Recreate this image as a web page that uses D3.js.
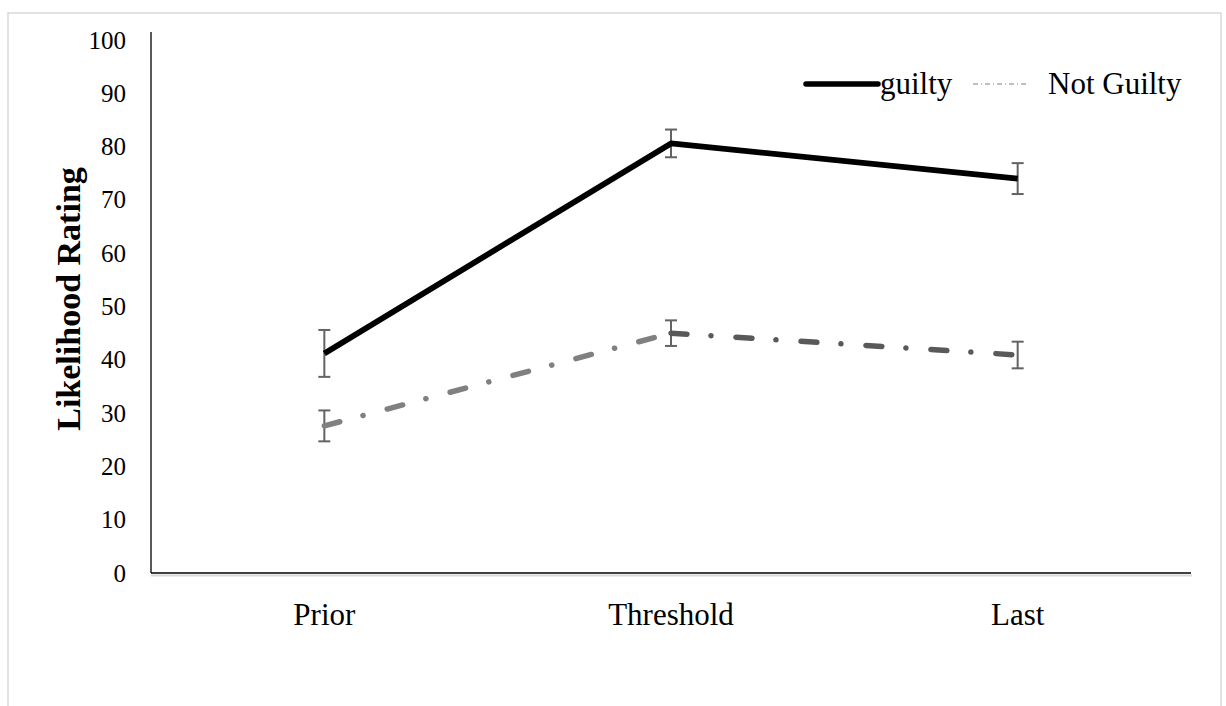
<!DOCTYPE html>
<html>
<head>
<meta charset="utf-8">
<script src="https://cdn.jsdelivr.net/npm/d3@7"></script>
<style>
  html, body { margin: 0; padding: 0; background: #fff; }
  svg { display: block; }
  text { font-family: "Liberation Serif", "Times New Roman", serif; fill: #000; }
</style>
</head>
<body>
<svg id="chart" width="1226" height="706"></svg>
<script>
const categories = ["Prior", "Threshold", "Last"];
const guiltyValues = [41.2, 80.6, 74.0];
const guiltyErrors = [4.4, 2.6, 2.9];
const notGuiltyValues = [27.6, 45.0, 40.9];
const notGuiltyErrors = [2.9, 2.4, 2.5];
const yTicks = [0, 10, 20, 30, 40, 50, 60, 70, 80, 90, 100];
const seriesNames = ["guilty", "Not Guilty"];
const yTitle = "Likelihood Rating";

const svg = d3.select("#chart");
const plot = { left: 151, right: 1191, top: 40, bottom: 573 };
const serif = '"Liberation Serif", "Times New Roman", serif';

// outer frame
svg.append("rect").attr("x", 8).attr("y", 13).attr("width", 1213).attr("height", 720)
  .attr("fill", "none").attr("stroke", "#d9d9d9").attr("stroke-width", 1.5);

const x = d3.scaleBand().domain(categories).range([plot.left, plot.right]).paddingInner(0).paddingOuter(0);
const y = d3.scaleLinear().domain([0, 100]).range([plot.bottom, plot.top]);
const cx = c => x(c) + x.bandwidth() / 2;

// y tick labels
const yAxis = d3.axisLeft(y).tickValues(yTicks).tickSize(0).tickPadding(25);
const gy = svg.append("g").attr("transform", `translate(${plot.left},0)`).call(yAxis)
  .attr("font-family", serif).attr("font-size", 25);
gy.select(".domain").remove();
gy.selectAll("text").attr("font-family", serif).style("font-family", serif).style("font-size", "25px").attr("fill", "#000");

// x tick labels
const xAxis = d3.axisBottom(x).tickSize(0).tickPadding(30);
const gx = svg.append("g").attr("transform", `translate(0,${plot.bottom})`).call(xAxis)
  .attr("font-family", serif).attr("font-size", 31);
gx.select(".domain").remove();
gx.selectAll("text").style("font-family", serif).style("font-size", "31px").attr("fill", "#000");

// axes lines
svg.append("line").attr("x1", plot.left).attr("x2", plot.right + 1).attr("y1", plot.bottom + 2.5).attr("y2", plot.bottom + 2.5)
  .attr("stroke", "#d9d9d9").attr("stroke-width", 2);
svg.append("line").attr("x1", plot.left).attr("x2", plot.left).attr("y1", 32).attr("y2", plot.bottom)
  .attr("stroke", "#000").attr("stroke-width", 1.3);
svg.append("line").attr("x1", plot.left).attr("x2", plot.right).attr("y1", plot.bottom).attr("y2", plot.bottom)
  .attr("stroke", "#000").attr("stroke-width", 1.3);

// y title
svg.append("text")
  .attr("transform", `translate(80,299) rotate(-90)`)
  .attr("text-anchor", "middle")
  .style("font-size", "34px").style("font-weight", "bold")
  .text(yTitle);

// error bars
function errorBars(vals, errs) {
  const g = svg.append("g").attr("stroke", "#636363").attr("stroke-width", 2).attr("fill", "none");
  categories.forEach((c, i) => {
    const xc = cx(c), hi = y(vals[i] + errs[i]), lo = y(vals[i] - errs[i]);
    g.append("line").attr("x1", xc).attr("x2", xc).attr("y1", hi).attr("y2", lo);
    g.append("line").attr("x1", xc - 6).attr("x2", xc + 6).attr("y1", hi).attr("y2", hi);
    g.append("line").attr("x1", xc - 6).attr("x2", xc + 6).attr("y1", lo).attr("y2", lo);
  });
}
errorBars(guiltyValues, guiltyErrors);
errorBars(notGuiltyValues, notGuiltyErrors);

// not guilty line: dash-dot, two segments with different grays
const ngColors = ["#808080", "#595959"];
for (let i = 0; i < categories.length - 1; i++) {
  const pts = [[cx(categories[i]), y(notGuiltyValues[i])], [cx(categories[i + 1]), y(notGuiltyValues[i + 1])]];
  svg.append("path").attr("d", d3.line()(pts))
    .attr("fill", "none").attr("stroke", ngColors[i]).attr("stroke-width", 5.5)
    .attr("stroke-linecap", "round").attr("stroke-dasharray", "16,24,0.1,25");
}

// guilty line
const line = d3.line().x((d, i) => cx(categories[i])).y(d => y(d));
svg.append("path").datum(guiltyValues).attr("d", line)
  .attr("fill", "none").attr("stroke", "#000").attr("stroke-width", 5.8).attr("stroke-linejoin", "round");

// legend
const lg = svg.append("g");
lg.append("line").attr("x1", 806).attr("x2", 878).attr("y1", 84).attr("y2", 84)
  .attr("stroke", "#000").attr("stroke-width", 5.5).attr("stroke-linecap", "round");
lg.append("text").attr("x", 880).attr("y", 94).style("font-size", "31px").text(seriesNames[0]);
lg.append("line").attr("x1", 973).attr("x2", 1029).attr("y1", 84).attr("y2", 84)
  .attr("stroke", "#808080").attr("stroke-width", 1.2).attr("stroke-dasharray", "5,3,1,3");
lg.append("text").attr("x", 1048).attr("y", 94).style("font-size", "31px").text(seriesNames[1]);
</script>
</body>
</html>
